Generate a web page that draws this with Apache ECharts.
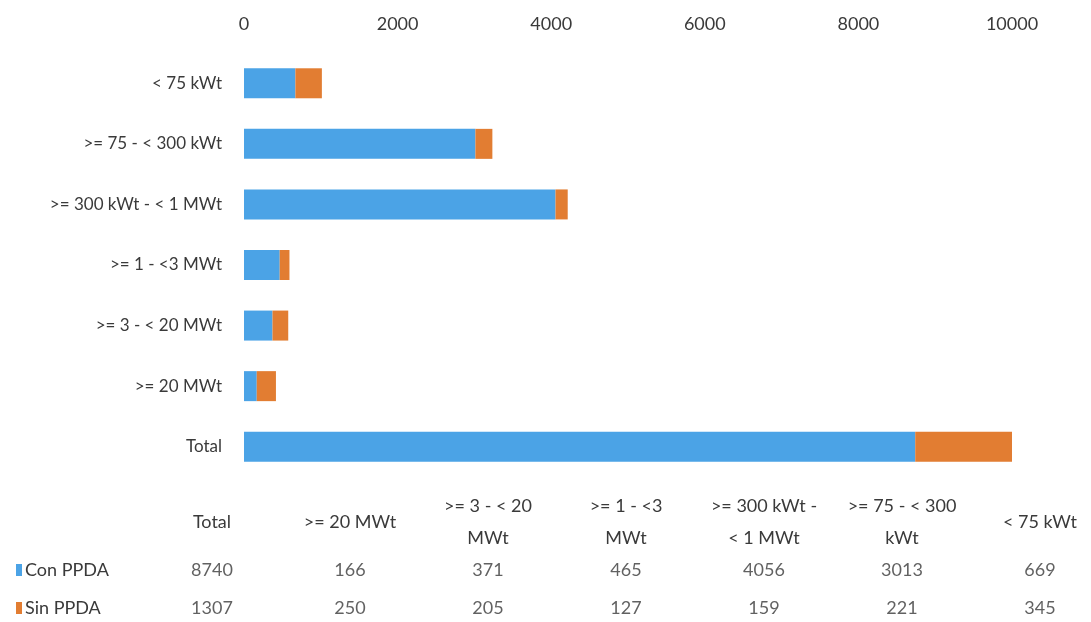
<!DOCTYPE html>
<html>
<head>
<meta charset="utf-8">
<script src="https://cdn.jsdelivr.net/npm/echarts@6/dist/echarts.min.js"></script>
<style>
  html, body { margin: 0; padding: 0; background: #fff; }
  #chart { width: 1091px; height: 622px; }
</style>
</head>
<body>
<div id="chart"></div>
<script>
// Boiler size classes, top to bottom in the bar chart
const categories = ['< 75 kWt', '>= 75 - < 300 kWt', '>= 300 kWt - < 1 MWt', '>= 1 - <3 MWt', '>= 3 - < 20 MWt', '>= 20 MWt', 'Total'];
const conPPDA = [669, 3013, 4056, 465, 371, 166, 8740];
const sinPPDA = [345, 221, 159, 127, 205, 250, 1307];
const seriesNames = ['Con PPDA', 'Sin PPDA'];
const xTicks = [0, 2000, 4000, 6000, 8000, 10000];
// Column headers of the data table (reverse order, wrapped)
const tableHeaders = ['Total', '>= 20 MWt', '>= 3 - < 20\nMWt', '>= 1 - <3\nMWt', '>= 300 kWt -\n< 1 MWt', '>= 75 - < 300\nkWt', '< 75 kWt'];

const BLUE = '#4BA3E6';
const ORANGE = '#E27D32';
const FONT = 'Lato';
const TEXT = '#3a3a3a';

// Table cells: column i of the table is category (n-1-i)
const n = categories.length;
const cells = [];
for (let i = 0; i < n; i++) {
  const src = n - 1 - i;
  cells.push([i, 0, conPPDA[src]]);
  cells.push([i, 1, sinPPDA[src]]);
}

const chart = echarts.init(document.getElementById('chart'));
chart.setOption({
  animation: false,
  backgroundColor: '#fff',
  textStyle: { fontFamily: FONT },
  grid: [
    { left: 244, width: 768, top: 53, height: 424, outerBoundsMode: 'none' },
    { left: 143, width: 966, top: 551, height: 76, outerBoundsMode: 'none' }
  ],
  xAxis: [
    {
      gridIndex: 0, type: 'value', position: 'top',
      min: xTicks[0], max: xTicks[xTicks.length - 1], interval: 2000,
      axisLine: { show: false }, axisTick: { show: false }, splitLine: { show: false },
      axisLabel: { color: TEXT, fontSize: 18, fontFamily: FONT, margin: 20, formatter: v => String(v) }
    },
    {
      gridIndex: 1, type: 'category', position: 'top', data: tableHeaders,
      axisLine: { show: false }, axisTick: { show: false }, splitLine: { show: false },
      axisLabel: {
        color: TEXT, fontSize: 18, fontFamily: FONT, lineHeight: 32,
        verticalAlign: 'middle', margin: 29, interval: 0
      }
    }
  ],
  yAxis: [
    {
      gridIndex: 0, type: 'category', data: categories, inverse: true,
      axisLine: { show: false }, axisTick: { show: false }, splitLine: { show: false },
      axisLabel: { color: TEXT, fontSize: 17, fontFamily: FONT, margin: 22 }
    },
    {
      gridIndex: 1, type: 'category', data: seriesNames, inverse: true,
      axisLine: { show: false }, axisTick: { show: false }, splitLine: { show: false },
      axisLabel: {
        align: 'left', margin: 127,
        formatter: (v, idx) => (idx === 0 ? '{a|}' : '{b|}') + '{t|' + v + '}',
        rich: {
          a: { width: 6, height: 12, backgroundColor: BLUE },
          b: { width: 6, height: 12, backgroundColor: ORANGE },
          t: { color: TEXT, fontSize: 18, fontFamily: FONT, padding: [0, 0, 0, 3] }
        }
      }
    }
  ],
  series: [
    {
      name: seriesNames[0], type: 'bar', stack: 'total', data: conPPDA,
      xAxisIndex: 0, yAxisIndex: 0, barWidth: 30,
      itemStyle: { color: BLUE }
    },
    {
      name: seriesNames[1], type: 'bar', stack: 'total', data: sinPPDA,
      xAxisIndex: 0, yAxisIndex: 0, barWidth: 30,
      itemStyle: { color: ORANGE }
    },
    {
      type: 'scatter', xAxisIndex: 1, yAxisIndex: 1, data: cells,
      symbolSize: 1, itemStyle: { color: 'transparent' },
      label: {
        show: true, position: 'inside', color: TEXT, fontSize: 18, fontFamily: FONT,
        formatter: p => String(p.value[2])
      }
    }
  ]
});
</script>
</body>
</html>
